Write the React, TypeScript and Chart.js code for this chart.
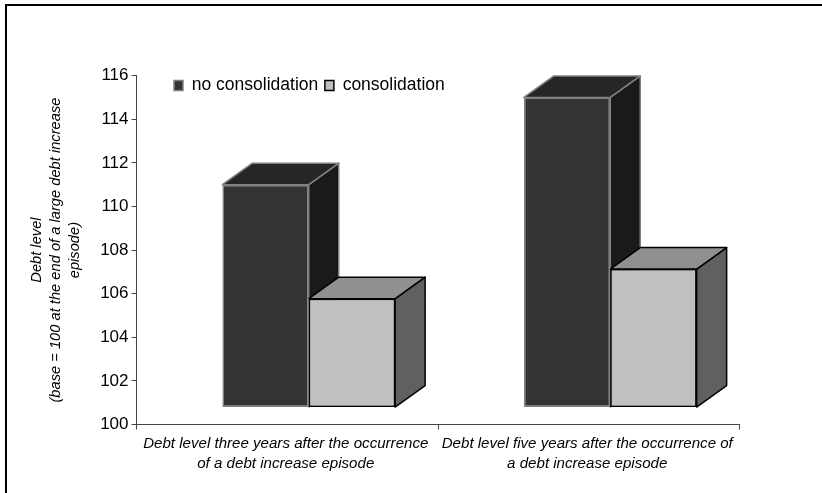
import React, { useEffect, useRef } from "react";
import { Chart, registerables } from "chart.js";

Chart.register(...registerables);

const categories = [
  ["Debt level three years after the occurrence", "of a debt increase episode"],
  ["Debt level five years after the occurrence of", "a debt increase episode"],
];
const noConsolidation = [111, 115];
const consolidation = [105.77, 107.13];
const barBase = 100.8;
const yTitle = ["Debt level", "(base = 100 at the end of a large debt increase", "episode)"];
const FONT = "'Liberation Sans', Arial, sans-serif";

const DEPTH_X = 30;
const DEPTH_Y = 21.5;
const SHIFT_X = 21.5;

const faces = [
  { top: "#262626", side: "#1a1a1a", edge: "#808080" },
  { top: "#909090", side: "#606060", edge: "#000000" },
];

const frame = {
  id: "frame",
  beforeDraw(chart: any) {
    const { ctx } = chart;
    ctx.save();
    ctx.strokeStyle = "#000";
    ctx.lineWidth = 2;
    ctx.beginPath();
    ctx.moveTo(6, 493);
    ctx.lineTo(6, 5);
    ctx.lineTo(822, 5);
    ctx.stroke();
    ctx.restore();
  },
};

const moveLegend = {
  id: "moveLegend",
  afterLayout(chart: any) {
    const lg = chart.legend;
    const w = lg.right - lg.left;
    const h = lg.bottom - lg.top;
    lg.left = 167.35;
    lg.right = 167.35 + w;
    lg.top = 70;
    lg.bottom = 70 + h;
  },
};

const bars3d = {
  id: "bars3d",
  beforeDatasetsDraw(chart: any) {
    const { ctx } = chart;
    ctx.save();
    ctx.translate(SHIFT_X, 0);
    chart.data.datasets.forEach((_: any, d: number) => {
      const f = faces[d];
      chart.getDatasetMeta(d).data.forEach((bar: any) => {
        const l = bar.x - bar.width / 2;
        const r = bar.x + bar.width / 2;
        const t = bar.y;
        const b = bar.base;
        ctx.lineWidth = 1.5;
        ctx.strokeStyle = f.edge;
        ctx.lineJoin = "round";
        ctx.fillStyle = f.side;
        ctx.beginPath();
        ctx.moveTo(r, t);
        ctx.lineTo(r + DEPTH_X, t - DEPTH_Y);
        ctx.lineTo(r + DEPTH_X, b - DEPTH_Y);
        ctx.lineTo(r, b);
        ctx.closePath();
        ctx.fill();
        ctx.stroke();
        ctx.fillStyle = f.top;
        ctx.beginPath();
        ctx.moveTo(l, t);
        ctx.lineTo(l + DEPTH_X, t - DEPTH_Y);
        ctx.lineTo(r + DEPTH_X, t - DEPTH_Y);
        ctx.lineTo(r, t);
        ctx.closePath();
        ctx.fill();
        ctx.stroke();
      });
    });
  },
  afterDatasetsDraw(chart: any) {
    const { ctx } = chart;
    chart.getDatasetMeta(1).data.forEach((bar: any) => bar.draw(ctx));
    ctx.restore();
  },
};

export default function App() {
  const ref = useRef<HTMLCanvasElement>(null);
  useEffect(() => {
    const chart = new Chart(ref.current as HTMLCanvasElement, {
      type: "bar",
      data: {
        labels: categories as any,
        datasets: [
          {
            label: "no consolidation",
            data: noConsolidation,
            base: barBase,
            backgroundColor: "#333333",
            borderColor: "#808080",
            borderWidth: 1.5,
            borderSkipped: false,
            categoryPercentage: 0.573,
            barPercentage: 1,
            clip: false,
          },
          {
            label: "consolidation",
            data: consolidation,
            base: barBase,
            backgroundColor: "#c0c0c0",
            borderColor: "#000000",
            borderWidth: 1.5,
            borderSkipped: false,
            categoryPercentage: 0.573,
            barPercentage: 1,
            clip: false,
          },
        ] as any,
      },
      options: {
        responsive: false,
        animation: false,
        layout: { padding: { left: 0, right: 82.5, top: 41.5, bottom: 0 } },
        plugins: {
          tooltip: { enabled: false },
          title: { display: false },
          legend: {
            display: true,
            position: "top",
            align: "start",
            labels: {
              boxWidth: 9,
              boxHeight: 10,
              padding: 6.65,
              color: "#000",
              font: { family: FONT, size: 17.5 },
            },
          },
        },
        scales: {
          x: {
            afterFit: (s: any) => {
              s.height = 68.5;
            },
            grid: { drawOnChartArea: false, drawTicks: true, tickLength: 5, color: "#444" },
            border: { color: "#444", width: 1 },
            ticks: {
              color: "#000",
              maxRotation: 0,
              minRotation: 0,
              autoSkip: false,
              padding: 4,
              labelOffset: -1.5,
              font: { family: FONT, size: 15.1, style: "italic", lineHeight: 1.33 },
            },
          },
          y: {
            min: 100,
            max: 116,
            afterFit: (s: any) => {
              s.width = 136.5;
            },
            grid: { drawOnChartArea: false, drawTicks: true, tickLength: 5, color: "#444" },
            border: { color: "#444", width: 1 },
            ticks: {
              stepSize: 2,
              color: "#000",
              padding: 3,
              font: { family: FONT, size: 17 },
            },
            title: {
              display: true,
              text: yTitle,
              color: "#000",
              padding: { top: 27, bottom: 0 },
              font: { family: FONT, size: 14.7, style: "italic", lineHeight: 1.3 },
            },
          },
        },
      },
      plugins: [frame, moveLegend, bars3d],
    });
    return () => chart.destroy();
  }, []);
  return (
    <canvas
      ref={ref}
      width={822}
      height={493}
      style={{ position: "fixed", left: 0, top: 0, display: "block", width: 822, height: 493 }}
    />
  );
}
